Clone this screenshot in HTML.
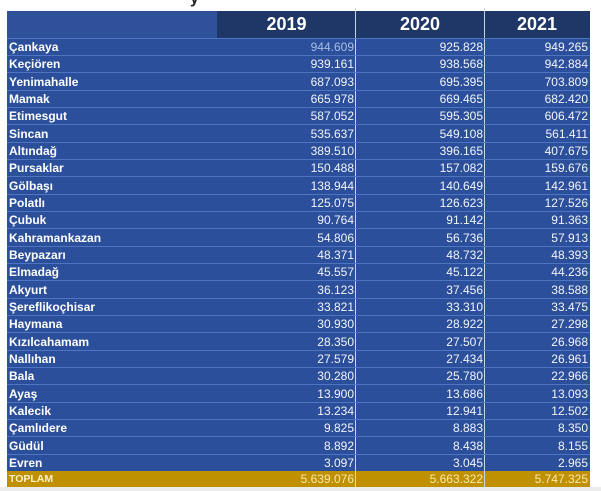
<!DOCTYPE html>
<html>
<head>
<meta charset="utf-8">
<style>
html,body{margin:0;padding:0;}
body{width:601px;height:491px;position:relative;overflow:hidden;background:#ffffff;font-family:"Liberation Sans",Arial,sans-serif;}
.abs{position:absolute;}
#tbl{position:absolute;left:7px;top:11px;width:583px;height:476px;background:#2c4f9b;}
.hdrL{position:absolute;left:7px;top:11px;width:210px;height:27px;background:#2e5199;}
.hdrD{position:absolute;left:217px;top:11px;width:373px;height:27px;background:#1f3766;}
.yr{position:absolute;top:11px;height:27px;line-height:27px;color:#fff;font-weight:bold;font-size:18px;text-align:center;}
.row{position:absolute;left:7px;width:583px;height:17.34px;border-top:1px solid #4f74c2;box-sizing:border-box;}
.nm{position:absolute;left:9px;color:#fff;font-weight:bold;font-size:12px;line-height:17px;white-space:nowrap;}
.v{position:absolute;color:#f2f4fa;font-size:12px;line-height:17px;text-align:right;white-space:nowrap;}
.sep{position:absolute;width:1px;background:#c9d3ea;}
</style>
</head>
<body>
<span class="abs" style="left:190px;top:-10px;font-size:16px;font-weight:bold;color:#222;">y</span>
<div id="tbl"></div>
<div class="hdrL"></div>
<div class="hdrD"></div>
<div class="yr" style="left:217px;width:139px;">2019</div>
<div class="yr" style="left:356px;width:128px;">2020</div>
<div class="yr" style="left:484px;width:106px;">2021</div>
<div class="abs" style="left:0;top:487px;width:601px;height:4px;background:#ececec;"></div>
<div class="abs" style="left:7px;top:471px;width:583px;height:16px;background:#bf9000;"></div>
<span class="abs" style="left:9px;top:471px;line-height:16px;font-size:10.5px;font-weight:bold;color:#fdf1c8;">TOPLAM</span>
<span class="v" style="left:217px;width:137px;top:471px;line-height:16px;color:#fbe9b0;">5.639.076</span>
<span class="v" style="left:356px;width:127px;top:471px;line-height:16px;color:#fbe9b0;">5.663.322</span>
<span class="v" style="left:484px;width:104px;top:471px;line-height:16px;color:#fbe9b0;">5.747.325</span>
<div class="sep" style="left:355px;top:8px;height:479px;"></div>
<div class="sep" style="left:484px;top:8px;height:479px;"></div>
<div id="rows"></div>
<script>
var d=[
["Çankaya","944.609","925.828","949.265"],
["Keçiören","939.161","938.568","942.884"],
["Yenimahalle","687.093","695.395","703.809"],
["Mamak","665.978","669.465","682.420"],
["Etimesgut","587.052","595.305","606.472"],
["Sincan","535.637","549.108","561.411"],
["Altındağ","389.510","396.165","407.675"],
["Pursaklar","150.488","157.082","159.676"],
["Gölbaşı","138.944","140.649","142.961"],
["Polatlı","125.075","126.623","127.526"],
["Çubuk","90.764","91.142","91.363"],
["Kahramankazan","54.806","56.736","57.913"],
["Beypazarı","48.371","48.732","48.393"],
["Elmadağ","45.557","45.122","44.236"],
["Akyurt","36.123","37.456","38.588"],
["Şereflikoçhisar","33.821","33.310","33.475"],
["Haymana","30.930","28.922","27.298"],
["Kızılcahamam","28.350","27.507","26.968"],
["Nallıhan","27.579","27.434","26.961"],
["Bala","30.280","25.780","22.966"],
["Ayaş","13.900","13.686","13.093"],
["Kalecik","13.234","12.941","12.502"],
["Çamlıdere","9.825","8.883","8.350"],
["Güdül","8.892","8.438","8.155"],
["Evren","3.097","3.045","2.965"]
];
var h="";
for(var i=0;i<d.length;i++){
 var t=37.5+17.34*i;
 h+='<div class="row" style="top:'+t.toFixed(2)+'px"></div>';
 var tt=(t+1.5).toFixed(2);
 h+='<span class="nm" style="top:'+tt+'px">'+d[i][0]+'</span>';
 h+='<span class="v" style="left:217px;width:137px;top:'+tt+'px;'+(i==0?'color:#a9bde6;':'')+'">'+d[i][1]+'</span>';
 h+='<span class="v" style="left:356px;width:127px;top:'+tt+'px">'+d[i][2]+'</span>';
 h+='<span class="v" style="left:484px;width:104px;top:'+tt+'px">'+d[i][3]+'</span>';
}
document.getElementById("rows").innerHTML=h;
</script>
</body>
</html>
